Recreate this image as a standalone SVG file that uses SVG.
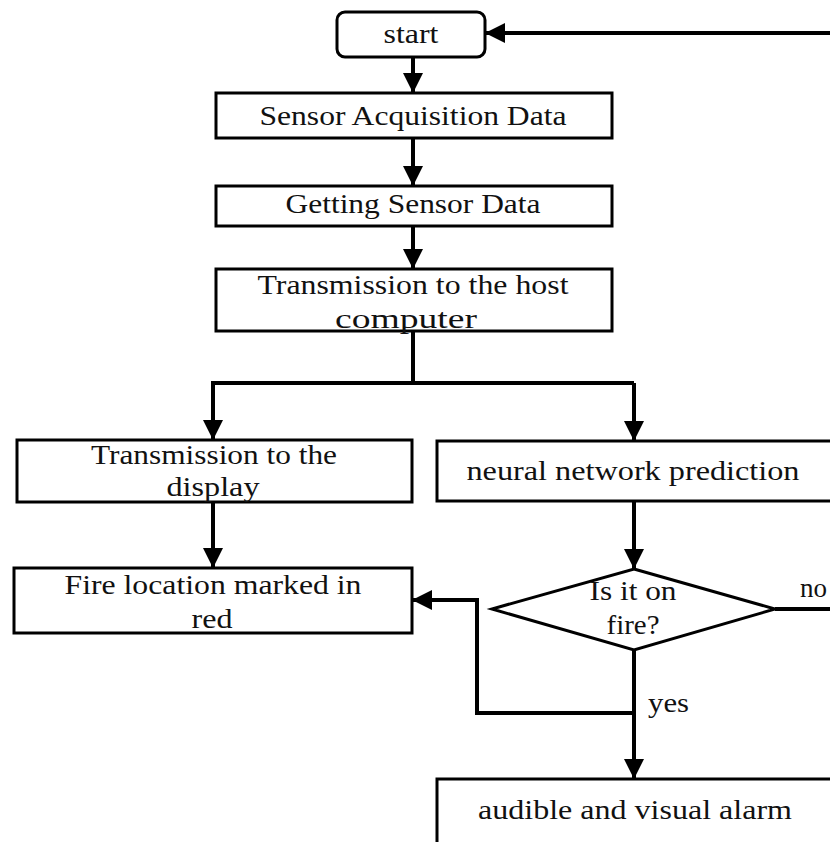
<svg xmlns="http://www.w3.org/2000/svg" width="830" height="842" viewBox="0 0 830 842">
<style>
.box{fill:#fff;stroke:#000;stroke-width:3}
.t{font-family:"Liberation Serif","Times New Roman",serif;font-size:27px;fill:#111;text-anchor:middle}
.c{fill:none;stroke:#000;stroke-width:4}
</style>
<defs>
<marker id="ah" markerUnits="userSpaceOnUse" markerWidth="20" markerHeight="20" refX="20" refY="10" orient="auto" viewBox="0 0 20 20">
<path d="M0,0 L20,10 L0,20 z" fill="#000"/>
</marker>
</defs>
<rect width="830" height="842" fill="#fff"/>
<g id="connectors">
<path class="c" d="M830,33 H485" marker-end="url(#ah)"/>
<path class="c" d="M413,57 V93" marker-end="url(#ah)"/>
<path class="c" d="M413,138 V186" marker-end="url(#ah)"/>
<path class="c" d="M413,226 V269" marker-end="url(#ah)"/>
<path class="c" d="M413,331 V383 M211,383 H634"/>
<path class="c" d="M213,383 V440" marker-end="url(#ah)"/>
<path class="c" d="M634,383 V441" marker-end="url(#ah)"/>
<path class="c" d="M213,502 V568" marker-end="url(#ah)"/>
<path class="c" d="M634,501 V569" marker-end="url(#ah)"/>
<path class="c" d="M634,650 V779" marker-end="url(#ah)"/>
<path class="c" d="M634,713 H477 V600 H412" marker-end="url(#ah)"/>
<path class="c" d="M775,609 H830"/>
<text class="t" x="800" y="597" style="text-anchor:start">no</text>
<text class="t" x="648" y="712" style="text-anchor:start" textLength="41" lengthAdjust="spacingAndGlyphs">yes</text>
</g>
<g id="start">
<rect class="box" x="337" y="12" width="148" height="45" rx="8"/>
<text class="t" x="411" y="43" textLength="55" lengthAdjust="spacingAndGlyphs">start</text>
</g>
<g id="sensor-acquisition">
<rect class="box" x="216" y="93" width="396" height="45"/>
<text class="t" x="413" y="125" textLength="307" lengthAdjust="spacingAndGlyphs">Sensor Acquisition Data</text>
</g>
<g id="getting-sensor">
<rect class="box" x="216" y="186" width="396" height="40"/>
<text class="t" x="413" y="213" textLength="255" lengthAdjust="spacingAndGlyphs">Getting Sensor Data</text>
</g>
<g id="transmission-host">
<rect class="box" x="216" y="269" width="396" height="62"/>
<text class="t" x="413" y="294" textLength="311" lengthAdjust="spacingAndGlyphs">Transmission to the host</text>
<text class="t" x="406" y="328" textLength="142" lengthAdjust="spacingAndGlyphs">computer</text>
</g>
<g id="transmission-display">
<rect class="box" x="17" y="440" width="395" height="62"/>
<text class="t" x="214" y="464" textLength="246" lengthAdjust="spacingAndGlyphs">Transmission to the</text>
<text class="t" x="213" y="496" textLength="93" lengthAdjust="spacingAndGlyphs">display</text>
</g>
<g id="fire-location">
<rect class="box" x="14" y="568" width="398" height="65"/>
<text class="t" x="213" y="594" textLength="297" lengthAdjust="spacingAndGlyphs">Fire location marked in</text>
<text class="t" x="212" y="628" textLength="41" lengthAdjust="spacingAndGlyphs">red</text>
</g>
<g id="neural-network">
<rect class="box" x="437" y="441" width="400" height="60"/>
<text class="t" x="633" y="480" textLength="333" lengthAdjust="spacingAndGlyphs">neural network prediction</text>
</g>
<g id="decision">
<polygon class="box" points="634,569 775,609 634,650 492,609"/>
<text class="t" x="633" y="600" textLength="87" lengthAdjust="spacingAndGlyphs">Is it on</text>
<text class="t" x="633" y="634" textLength="53" lengthAdjust="spacingAndGlyphs">fire?</text>
</g>
<g id="alarm">
<rect class="box" x="437" y="779" width="400" height="80"/>
<text class="t" x="635" y="819" textLength="314" lengthAdjust="spacingAndGlyphs">audible and visual alarm</text>
</g>
</svg>
